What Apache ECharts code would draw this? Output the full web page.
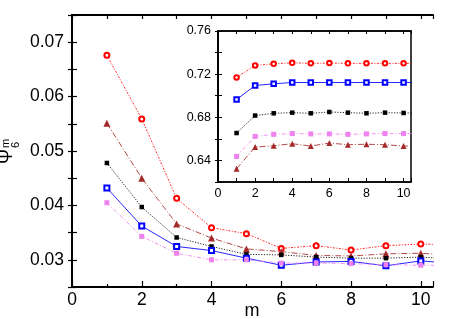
<!DOCTYPE html>
<html><head><meta charset="utf-8">
<script src="https://cdn.jsdelivr.net/npm/echarts@6/dist/echarts.min.js"></script>
<style>html,body{margin:0;padding:0;background:#fff}#c{width:455px;height:319px}</style>
</head><body><div id="c"></div>
<script>
const m = [1,2,3,4,5,6,7,8,9,10,11];
const mainTicksX = [0,2,4,6,8,10];
const mainTicksY = [0.03,0.04,0.05,0.06,0.07];
const insetTicksY = [0.64,0.68,0.72,0.76];

const mainRed   = [0.0676,0.0559,0.0413,0.0359,0.0348,0.0321,0.0326,0.0318,0.0326,0.0329,0.0327];
const mainBrown = [0.0551,0.0450,0.0366,0.0340,0.0320,0.0315,0.0308,0.0307,0.0311,0.0312,0.0308];
const mainBlack = [0.0478,0.0397,0.0341,0.03245,0.0310,0.0309,0.0305,0.0303,0.0303,0.0305,0.0301];
const mainBlue  = [0.0432,0.0362,0.03245,0.0317,0.0303,0.0290,0.0296,0.0297,0.0289,0.0298,0.0293];
const mainPink  = [0.0405,0.0343,0.0312,0.0300,0.0300,0.0294,0.0294,0.0293,0.0291,0.0290,0.0290];

const insetRed   = [0.7169,0.7281,0.7296,0.7305,0.7300,0.7303,0.7300,0.7300,0.7300,0.7300,0.7300];
const insetBlue  = [0.6965,0.7095,0.7110,0.7123,0.7122,0.7123,0.7122,0.7123,0.7122,0.7123,0.7123];
const insetBlack = [0.6654,0.6816,0.6837,0.6843,0.6837,0.6849,0.6843,0.6837,0.6843,0.6840,0.6840];
const insetPink  = [0.6437,0.6623,0.6642,0.6649,0.6646,0.6646,0.6642,0.6646,0.6649,0.6649,0.6649];
const insetBrown = [0.6323,0.6524,0.6536,0.6555,0.6533,0.6561,0.6546,0.6550,0.6546,0.6533,0.6540];

const FONT = 'Liberation Sans, Arial, sans-serif';
const pair = arr => arr.map((v,i)=>[m[i], v]);
const near = (v, list) => list.some(t => Math.abs(t - v) < 1e-6);

const styles = {
  red:   {color:'#ff0000', symbol:'emptyCircle', size:[5,4.5], dash:[2,1.5,1,1.5], bw:1.5},
  blue:  {color:'#0000ff', symbol:'emptyRect', size:[5,4.5], dash:'solid', bw:1.3},
  black: {color:'#000000', symbol:'rect', size:[4.5,4.5], dash:[1.2,1.5], bw:0},
  pink:  {color:'#ee82ee', symbol:'rect', size:[5,5], dash:[4,2,1,2], bw:0},
  brown: {color:'#a52a2a', symbol:'triangle', size:[7,6], dash:[6,2,1,2], bw:0}
};
function mk(name, key, arr, inset) {
  const s = styles[key];
  const o = {
    name: name, type:'line', data: pair(arr),
    xAxisIndex: inset ? 2 : 0, yAxisIndex: inset ? 2 : 0,
    symbol: s.symbol, symbolSize: inset ? s.size[1] : s.size[0],
    showSymbol:true, clip: true, animation:false,
    lineStyle:{color:s.color, width:1, type:s.dash, opacity:0.85},
    itemStyle:{color:s.color, borderColor:s.color, borderWidth:s.bw},
    emphasis:{disabled:true}
  };
  if (inset) o.zlevel = 1;
  return o;
}

const axLine = {show:true, lineStyle:{color:'#000', width:2}};
const axLineI = {show:true, lineStyle:{color:'#000', width:1.5}};

const chart = echarts.init(document.getElementById('c'));
chart.setOption({
  backgroundColor:'#fff',
  animation:false,
  textStyle:{fontFamily:FONT},
  grid:[
    {left:72, top:15, width:361, height:272, show:false},
    {left:218, top:31, width:193, height:151, show:true, backgroundColor:'#fff', borderColor:'#000', borderWidth:1.5, zlevel:1}
  ],
  xAxis:[
    {gridIndex:0, type:'value', min:0, max:10.35, interval:2, position:'bottom',
     axisLine:axLine, splitLine:{show:false},
     axisTick:{show:true, inside:true, length:6, lineStyle:{color:'#000', width:1.2}},
     minorTick:{show:true, splitNumber:2, length:3, lineStyle:{color:'#000', width:1.2}},
     axisLabel:{fontSize:17.5, color:'#000', margin:4, fontFamily:FONT, showMaxLabel:false,
       formatter:v=> near(v, mainTicksX) ? String(Math.round(v)) : ''}},
    {gridIndex:0, type:'value', min:0, max:10.35, interval:2, position:'top',
     axisLine:axLine, splitLine:{show:false},
     axisTick:{show:true, inside:true, length:4, lineStyle:{color:'#000', width:1.2}},
     minorTick:{show:true, splitNumber:2, length:4, lineStyle:{color:'#000', width:1.2}},
     axisLabel:{show:false}},
    {gridIndex:1, type:'value', min:0, max:10.4, interval:2, position:'bottom', zlevel:1,
     axisLine:axLineI, splitLine:{show:false},
     axisTick:{show:true, inside:true, length:4, lineStyle:{color:'#000', width:1}},
     minorTick:{show:true, splitNumber:2, length:4, lineStyle:{color:'#000', width:1}},
     axisLabel:{fontSize:12.5, color:'#000', margin:5, fontFamily:FONT, showMaxLabel:false,
       formatter:v=> near(v, mainTicksX) ? String(Math.round(v)) : ''}},
    {gridIndex:1, type:'value', min:0, max:10.4, interval:2, position:'top', zlevel:1,
     axisLine:axLineI, splitLine:{show:false},
     axisTick:{show:true, inside:true, length:3, lineStyle:{color:'#000', width:1}},
     minorTick:{show:true, splitNumber:2, length:3, lineStyle:{color:'#000', width:1}},
     axisLabel:{show:false}}
  ],
  yAxis:[
    {gridIndex:0, type:'value', min:0.025, max:0.075, interval:0.005, position:'left',
     axisLine:axLine, splitLine:{show:false},
     axisTick:{show:true, inside:true, length:5, lineStyle:{color:'#000', width:1.2}},
     axisLabel:{fontSize:17.5, color:'#000', margin:8, fontFamily:FONT,
       formatter:v=> near(v, mainTicksY) ? v.toFixed(2) : ''}},
    {gridIndex:0, type:'value', min:0.025, max:0.075, interval:0.005, position:'right',
     axisLine:axLine, splitLine:{show:false},
     axisTick:{show:true, inside:true, length:4, lineStyle:{color:'#000', width:1.2}},
     axisLabel:{show:false}},
    {gridIndex:1, type:'value', min:0.62, max:0.76, interval:0.02, position:'left', zlevel:1,
     axisLine:axLineI, splitLine:{show:false},
     axisTick:{show:true, inside:true, length:4, lineStyle:{color:'#000', width:1}},
     axisLabel:{fontSize:12.5, color:'#000', margin:7, fontFamily:FONT,
       formatter:v=> near(v, insetTicksY) ? v.toFixed(2) : ''}},
    {gridIndex:1, type:'value', min:0.62, max:0.76, interval:0.02, position:'right', zlevel:1,
     axisLine:axLineI, splitLine:{show:false},
     axisTick:{show:true, inside:true, length:3, lineStyle:{color:'#000', width:1}},
     axisLabel:{show:false}}
  ],
  graphic:[
    {type:'text', x:252, y:311.5, style:{text:'m', fontSize:18, fontFamily:FONT, fill:'#000', align:'center', verticalAlign:'middle'}},
    {type:'group', x:1, y:164, rotation:Math.PI/2, children:[
      {type:'text', x:0, y:6, style:{text:'Ψ', fontSize:18, fontFamily:FONT, fill:'#000', align:'left', verticalAlign:'middle'}},
      {type:'text', x:16, y:4.5, style:{text:'m', fontSize:11, fontFamily:FONT, fill:'#000', align:'left', verticalAlign:'middle'}},
      {type:'text', x:16, y:14.5, style:{text:'6', fontSize:11, fontFamily:FONT, fill:'#000', align:'left', verticalAlign:'middle'}}
    ]}
  ],
  series:[
    mk('red','red',mainRed,false),
    mk('brown','brown',mainBrown,false),
    mk('black','black',mainBlack,false),
    mk('blue','blue',mainBlue,false),
    mk('pink','pink',mainPink,false),
    mk('red inset','red',insetRed,true),
    mk('blue inset','blue',insetBlue,true),
    mk('black inset','black',insetBlack,true),
    mk('pink inset','pink',insetPink,true),
    mk('brown inset','brown',insetBrown,true)
  ]
});
</script></body></html>
